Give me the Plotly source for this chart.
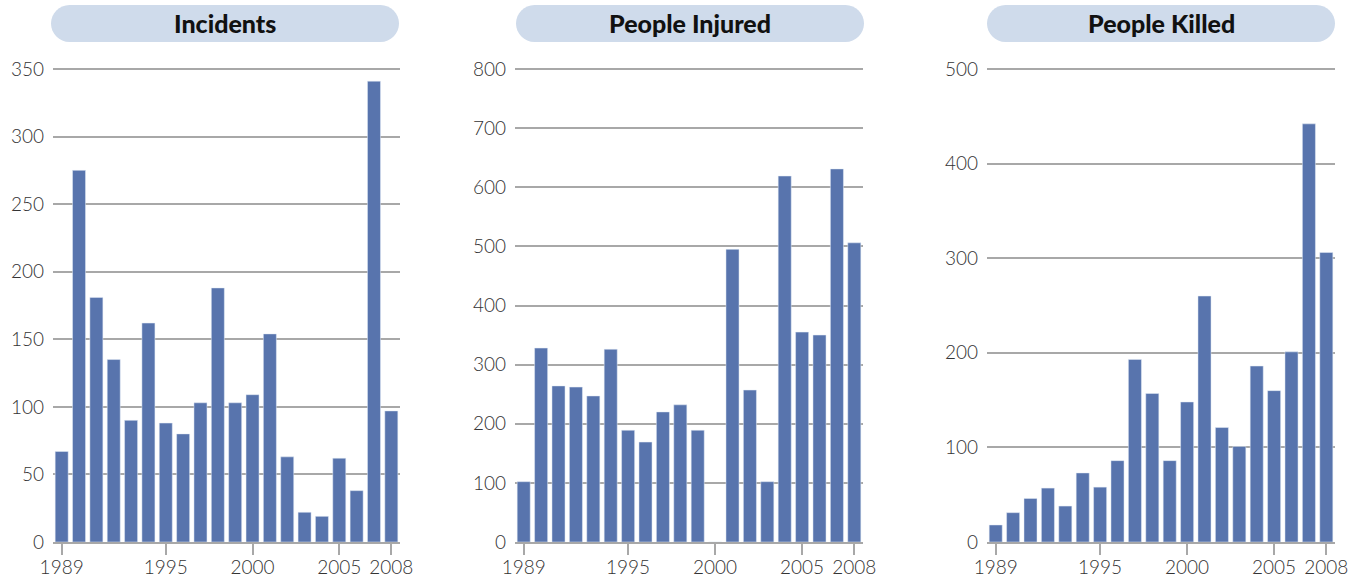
import plotly.graph_objects as go

years = list(range(1989, 2009))
incidents = [67, 275, 181, 135, 90, 162, 88, 80, 103, 188, 103, 109, 154, 63, 22, 19, 62, 38, 341, 97]
injured = [102, 328, 264, 262, 247, 326, 189, 169, 220, 232, 189, 0, 495, 257, 102, 619, 355, 350, 631, 506]
killed = [18, 31, 46, 57, 38, 73, 58, 86, 193, 157, 86, 148, 260, 121, 101, 186, 160, 201, 442, 306]
titles = ["Incidents", "People Injured", "People Killed"]
y_max = [350, 800, 500]
y_dtick = [50, 100, 100]
x_tickvals = [1989, 1995, 2000, 2005, 2008]

W, H = 1357, 579
BAR = "#5874AD"
GRID = "#a8a8a8"
FONT = "Lato"

def fx(px):
    return px / W

def fy(py):
    return 1 - py / H

panels_px = [(53, 400), (515, 863), (987, 1335)]
pills_px = [(51, 399), (516, 864), (987, 1335)]
zero_px, top_px = 542, 69
EXT = 1.01
y_dom = [fy(zero_px), fy(zero_px - (zero_px - top_px) * EXT)]

fig = go.Figure()
series = [incidents, injured, killed]
for i, vals in enumerate(series):
    n = "" if i == 0 else str(i + 1)
    fig.add_trace(go.Bar(x=years, y=vals, marker_color=BAR, width=0.75,
                         xaxis="x" + n, yaxis="y" + n, showlegend=False,
                         hoverinfo="x+y"))
    x0, x1 = panels_px[i]
    fig.layout["xaxis" + n] = dict(
        domain=[fx(x0), fx(x1)], anchor="y" + n, range=[1988.5, 2008.5],
        tickvals=x_tickvals, ticktext=[str(v) for v in x_tickvals],
        ticks="outside", ticklen=11, tickwidth=1.5, tickcolor=GRID,
        showline=True, linecolor=GRID, linewidth=2, showgrid=False,
        zeroline=False, automargin=False, ticklabelstandoff=-4,
        tickfont=dict(family=FONT, size=19, color="#333333", weight=300),
    )
    fig.layout["yaxis" + n] = dict(
        domain=y_dom, anchor="x" + n, range=[0, y_max[i] * EXT],
        dtick=y_dtick[i], tick0=0, showgrid=True, gridcolor=GRID, gridwidth=1.5,
        zeroline=False, showline=False, ticks="", ticklabelstandoff=8,
        automargin=False,
        tickfont=dict(family=FONT, size=19, color="#333333", weight=300),
    )

# pill-shaped title backgrounds
k = 0.5523
shapes = []
annotations = []
for i, (px0, px1) in enumerate(pills_px):
    top, bot = 5, 42
    r = (bot - top) / 2
    def P(x, y):
        return f"{fx(x):.6f},{fy(y):.6f}"
    path = (
        f"M {P(px0 + r, top)} L {P(px1 - r, top)} "
        f"C {P(px1 - r + k * r, top)} {P(px1, top + r - k * r)} {P(px1, top + r)} "
        f"C {P(px1, top + r + k * r)} {P(px1 - r + k * r, bot)} {P(px1 - r, bot)} "
        f"L {P(px0 + r, bot)} "
        f"C {P(px0 + r - k * r, bot)} {P(px0, top + r + k * r)} {P(px0, top + r)} "
        f"C {P(px0, top + r - k * r)} {P(px0 + r - k * r, top)} {P(px0 + r, top)} Z"
    )
    shapes.append(dict(type="path", path=path, xref="paper", yref="paper",
                       fillcolor="#CFDBEB", line=dict(width=0), layer="below"))
    annotations.append(dict(text=titles[i], x=fx((px0 + px1) / 2), y=fy((top + bot) / 2),
                            xref="paper", yref="paper", showarrow=False,
                            xanchor="center", yanchor="middle",
                            font=dict(family=FONT, size=25, color="#111111", weight=900)))

fig.update_layout(
    width=W, height=H, margin=dict(l=0, r=0, t=0, b=0),
    paper_bgcolor="white", plot_bgcolor="white",
    shapes=shapes, annotations=annotations, bargap=0.25,
)

fig.write_html("out.html", config={"displayModeBar": False},
               post_script="document.body.style.margin='0';")
